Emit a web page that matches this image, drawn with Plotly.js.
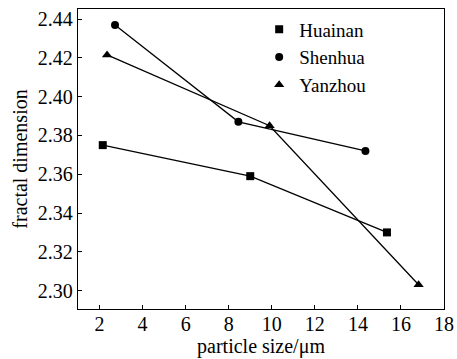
<!DOCTYPE html>
<html>
<head>
<meta charset="utf-8">
<script src="https://cdn.plot.ly/plotly-3.0.1.min.js"></script>
<style>html,body{margin:0;padding:0;background:#fff;}#chart{width:457px;height:359px;}</style>
</head>
<body>
<div id="chart"></div>
<script>
var seriesNames = ["Huainan", "Shenhua", "Yanzhou"];
var huainanX = [2.15, 9.0, 15.35];
var huainanY = [2.375, 2.359, 2.330];
var shenhuaX = [2.72, 8.45, 14.35];
var shenhuaY = [2.437, 2.387, 2.372];
var yanzhouX = [2.35, 9.9, 16.82];
var yanzhouY = [2.4215, 2.385, 2.303];
var xTicks = [2, 4, 6, 8, 10, 12, 14, 16, 18];
var yTicks = [2.30, 2.32, 2.34, 2.36, 2.38, 2.40, 2.42, 2.44];

var xs = [huainanX, shenhuaX, yanzhouX];
var ys = [huainanY, shenhuaY, yanzhouY];
var symbols = ["square", "circle", "triangle-up"];
var sizes = [8, 8, 9];

var traces = [];
for (var i = 0; i < 3; i++) {
  traces.push({
    x: xs[i], y: ys[i], name: seriesNames[i], mode: "lines+markers",
    line: {color: "#000", width: 1.3},
    marker: {symbol: symbols[i], size: sizes[i], color: "#000"},
    showlegend: false, hoverinfo: "skip"
  });
}
for (var j = 0; j < 3; j++) {
  traces.push({
    x: [null], y: [null], name: seriesNames[j], mode: "markers",
    marker: {symbol: symbols[j], size: sizes[j], color: "#000"},
    showlegend: true
  });
}

var fam = "'Liberation Serif'";
var font = {family: fam, size: 20, color: "#000"};
var layout = {
  width: 457, height: 359,
  margin: {l: 78, r: 13, t: 9, b: 50, pad: 0},
  paper_bgcolor: "#fff", plot_bgcolor: "#fff",
  font: font,
  showlegend: true,
  legend: {x: 0.495, y: 0.995, xanchor: "left", yanchor: "top", bgcolor: "rgba(0,0,0,0)",
           borderwidth: 0, font: {family: fam, size: 19, color: "#000"}, itemwidth: 30,
           tracegroupgap: 0},
  xaxis: {
    range: [1, 18], tickvals: xTicks, ticktext: xTicks.map(String),
    ticks: "inside", ticklen: 4, tickwidth: 1, tickcolor: "#000",
    showline: true, linecolor: "#000", linewidth: 1.3, mirror: true,
    showgrid: false, zeroline: false, ticklabelstandoff: -3,
    tickfont: font,
    title: {text: "particle size/μm", font: font, standoff: 3}
  },
  yaxis: {
    range: [2.2905, 2.4452], tickvals: yTicks, ticktext: yTicks.map(function(v){return v.toFixed(2);}),
    ticks: "inside", ticklen: 4, tickwidth: 1, tickcolor: "#000",
    showline: true, linecolor: "#000", linewidth: 1.3, mirror: true,
    showgrid: false, zeroline: false,
    tickfont: font,
    title: {text: "fractal dimension", font: font, standoff: 4}
  }
};
Plotly.newPlot("chart", traces, layout, {displayModeBar: false, staticPlot: true});
</script>
</body>
</html>
